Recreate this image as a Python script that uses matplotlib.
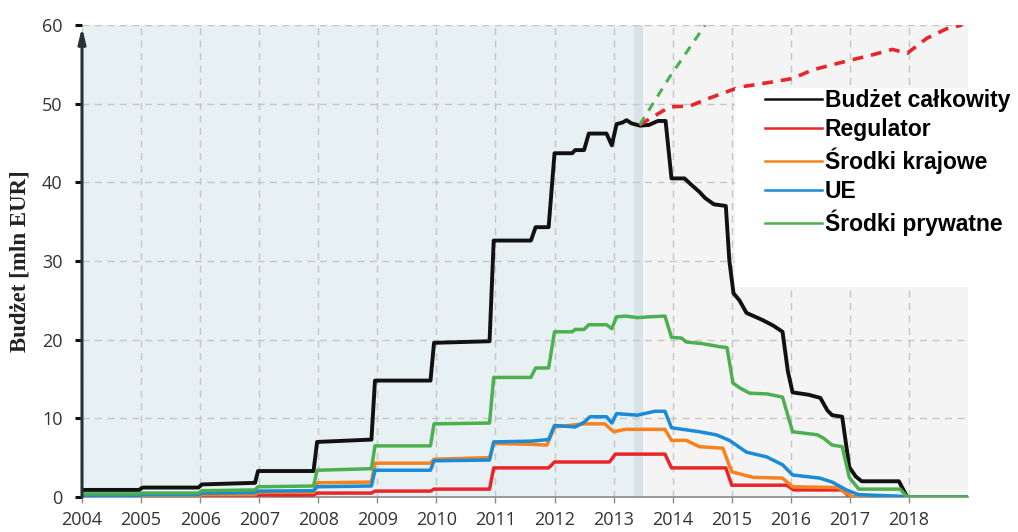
import matplotlib
matplotlib.use('Agg')
import matplotlib.pyplot as plt
from matplotlib.lines import Line2D
from matplotlib.patches import Rectangle

# --- dane ---
years = list(range(2004, 2019))

t_total = [2004.0, 2004.97, 2005.02, 2005.97, 2006.03, 2006.93, 2006.98, 2007.92, 2007.98, 2008.9,
           2008.96, 2009.9, 2009.96, 2010.9, 2010.97, 2011.6, 2011.68, 2011.9, 2012.0, 2012.3,
           2012.35, 2012.5, 2012.58, 2012.88, 2012.97, 2013.05, 2013.15, 2013.22, 2013.3, 2013.45,
           2013.6, 2013.75, 2013.88, 2013.98, 2014.2, 2014.3, 2014.45, 2014.55, 2014.7, 2014.9,
           2014.96, 2015.03, 2015.13, 2015.25, 2015.52, 2015.7, 2015.86, 2015.95, 2016.03, 2016.3,
           2016.5, 2016.62, 2016.7, 2016.87, 2016.93, 2016.99, 2017.1, 2017.2, 2017.83, 2017.97, 2019.0]
v_total = [0.9, 0.9, 1.2, 1.2, 1.6, 1.8, 3.3, 3.3, 7.0, 7.3,
           14.8, 14.8, 19.6, 19.8, 32.6, 32.6, 34.3, 34.3, 43.7, 43.7,
           44.1, 44.1, 46.2, 46.2, 44.7, 47.4, 47.6, 47.9, 47.5, 47.2,
           47.3, 47.8, 47.8, 40.5, 40.5, 39.8, 38.8, 38.0, 37.2, 37.0,
           30.0, 25.9, 25.0, 23.4, 22.5, 21.8, 21.0, 16.0, 13.3, 13.0,
           12.6, 11.0, 10.4, 10.2, 7.0, 3.8, 2.6, 2.0, 2.0, 0.0, 0.0]

t_reg = [2004.0, 2006.93, 2006.98, 2007.92, 2007.98, 2008.9, 2008.96, 2009.9, 2009.96, 2010.9,
         2010.97, 2011.9, 2012.0, 2012.93, 2013.03, 2013.87, 2013.98, 2014.9, 2015.0, 2015.93,
         2016.05, 2016.87, 2017.0, 2019.0]
v_reg = [0.05, 0.1, 0.25, 0.25, 0.5, 0.5, 0.75, 0.75, 1.0, 1.0,
         3.7, 3.7, 4.45, 4.45, 5.45, 5.45, 3.7, 3.7, 1.5, 1.5,
         0.9, 0.9, 0.0, 0.0]

t_nat = [2004.0, 2004.97, 2005.02, 2005.97, 2006.03, 2006.93, 2006.98, 2007.92, 2007.98, 2008.9,
         2008.96, 2009.9, 2009.96, 2010.9, 2010.97, 2011.6, 2011.87, 2012.0, 2012.5, 2012.85,
         2013.0, 2013.2, 2013.87, 2013.98, 2014.23, 2014.45, 2014.85, 2015.0, 2015.36, 2015.86,
         2016.03, 2016.8, 2017.05, 2019.0]
v_nat = [0.05, 0.05, 0.15, 0.15, 0.3, 0.3, 0.6, 0.6, 1.8, 1.9,
         4.3, 4.3, 4.8, 5.0, 6.8, 6.7, 6.6, 8.9, 9.3, 9.3,
         8.3, 8.6, 8.6, 7.2, 7.2, 6.4, 6.2, 3.2, 2.5, 2.4,
         1.3, 1.2, 0.0, 0.0]

t_eu = [2004.0, 2004.97, 2005.02, 2005.97, 2006.03, 2006.93, 2006.98, 2007.92, 2007.98, 2008.9,
        2008.96, 2009.9, 2009.96, 2010.9, 2010.97, 2011.6, 2011.9, 2012.0, 2012.35, 2012.5,
        2012.6, 2012.88, 2012.97, 2013.05, 2013.4, 2013.7, 2013.87, 2013.98, 2014.45, 2014.74,
        2014.96, 2015.25, 2015.59, 2015.86, 2016.03, 2016.49, 2016.7, 2016.94, 2017.15, 2017.85,
        2017.97, 2019.0]
v_eu = [0.2, 0.2, 0.3, 0.3, 0.5, 0.55, 0.75, 0.8, 1.3, 1.4,
        3.4, 3.4, 4.6, 4.7, 7.0, 7.1, 7.3, 9.1, 8.9, 9.5,
        10.2, 10.2, 9.4, 10.6, 10.4, 10.9, 10.9, 8.8, 8.3, 7.9,
        7.2, 5.7, 5.1, 4.1, 2.8, 2.4, 1.9, 0.9, 0.3, 0.1,
        0.0, 0.0]

t_priv = [2004.0, 2004.97, 2005.02, 2005.97, 2006.03, 2006.93, 2006.98, 2007.92, 2007.98, 2008.9,
          2008.96, 2009.9, 2009.96, 2010.9, 2010.97, 2011.6, 2011.68, 2011.9, 2012.0, 2012.3,
          2012.35, 2012.5, 2012.58, 2012.88, 2012.97, 2013.05, 2013.2, 2013.4, 2013.6, 2013.87,
          2013.98, 2014.15, 2014.23, 2014.5, 2014.8, 2014.92, 2015.02, 2015.13, 2015.3, 2015.6,
          2015.86, 2016.03, 2016.45, 2016.55, 2016.7, 2016.87, 2016.99, 2017.15, 2017.85, 2017.97,
          2019.0]
v_priv = [0.4, 0.4, 0.5, 0.5, 0.8, 0.9, 1.3, 1.4, 3.4, 3.6,
          6.5, 6.5, 9.3, 9.4, 15.2, 15.2, 16.4, 16.4, 21.0, 21.0,
          21.3, 21.3, 21.9, 21.9, 21.4, 22.9, 23.0, 22.8, 22.9, 23.0,
          20.3, 20.2, 19.7, 19.5, 19.1, 19.0, 14.5, 13.9, 13.2, 13.1,
          12.7, 8.3, 7.9, 7.5, 6.6, 6.4, 2.5, 1.0, 1.0, 0.0,
          0.0]

# prognozy (linie przerywane)
t_reg_fc = [2013.44, 2013.95, 2014.29, 2014.62, 2015.13, 2015.64, 2016.03, 2016.37, 2016.94,
            2017.38, 2017.72, 2017.97, 2018.3, 2018.63, 2018.9]
v_reg_fc = [47.3, 49.6, 49.7, 50.7, 52.1, 52.7, 53.2, 54.3, 55.4,
            56.2, 56.9, 56.4, 58.3, 59.5, 60.0]
t_priv_fc = [2013.44, 2013.95, 2014.55]
v_priv_fc = [47.3, 53.4, 60.0]

labels = ['Budżet całkowity', 'Regulator', 'Środki krajowe', 'UE', 'Środki prywatne']
colors = ['#111111', '#e8262a', '#f5821f', '#1a8bd6', '#4cb050']

# okresy tła
past_end = 2013.35
band_end = 2013.5

fig = plt.figure(figsize=(10.18, 5.32), dpi=100)
ax = fig.add_axes([82 / 1018, 1 - 497 / 532, 886 / 1018, 472 / 532])

ax.axvspan(2004, past_end, color='#e7f0f2', lw=0, zorder=0)
ax.axvspan(past_end, band_end, color='#d6e4e8', lw=0, zorder=0)
ax.axvspan(band_end, 2019, color='#f4f4f4', lw=0, zorder=0)

ax.grid(True, ls=(0, (5, 4)), color='#c6c6c6', lw=1)
ax.set_axisbelow(True)

series = [(t_total, v_total), (t_reg, v_reg), (t_nat, v_nat), (t_eu, v_eu), (t_priv, v_priv)]
widths = [2.8, 2.5, 2.5, 2.5, 2.5]
for (t, v), c, w in zip(series, colors, widths):
    ax.plot(t, v, color=c, lw=w, solid_joinstyle='round', solid_capstyle='round', zorder=3)

ax.plot(t_reg_fc, v_reg_fc, color='#e8262a', lw=2.6, ls=(0, (3, 2.2)), zorder=3)
ax.plot(t_priv_fc, v_priv_fc, color='#4cb050', lw=2.2, ls=(0, (3, 2.5)), zorder=3)

ax.set_xlim(2004, 2019)
ax.set_ylim(0, 60)
ax.set_xticks(years)
ax.set_yticks(range(0, 61, 10))

for s in ['top', 'right', 'left']:
    ax.spines[s].set_visible(False)
ax.spines['bottom'].set_color('#8a8a8a')
ax.spines['bottom'].set_linewidth(1.2)

ax.annotate('', xy=(0, 0.995), xytext=(0, 0), xycoords='axes fraction',
            arrowprops=dict(arrowstyle='-|>,head_width=0.22,head_length=0.9',
                            color='#243434', lw=2.2, shrinkA=0, shrinkB=0), zorder=4)

ax.tick_params(axis='y', length=5, width=2.2, color='#111111', pad=9,
               labelsize=13, labelcolor='#333333')
ax.tick_params(axis='x', length=4, width=1, color='#8a8a8a', pad=6,
               labelsize=13, labelcolor='#333333')
for lab in ax.get_xticklabels() + ax.get_yticklabels():
    lab.set_family(['Open Sans', 'DejaVu Sans'])

ax.set_ylabel('Budżet [mln EUR]', family='Liberation Serif', fontweight='bold',
              fontsize=16.5, color='#222222')
ax.yaxis.set_label_coords(-0.058, 0.5)

# biale tlo legendy
fig.add_artist(Rectangle((735 / 1018, 1 - 287 / 532), 283 / 1018, 199 / 532,
                         transform=fig.transFigure, facecolor='white', edgecolor='none', zorder=3))

handles = [Line2D([0], [0], color=c, lw=1.8) for c in colors]
fig.legend(handles, labels, loc='upper left', bbox_to_anchor=(765 / 1018, 1 - 89 / 532),
           frameon=False, borderpad=0, borderaxespad=0, handlelength=2.5, handletextpad=0.1,
           labelspacing=0.27, prop=dict(family='Liberation Sans', weight='bold', size=16.5))

fig.savefig('out.png', dpi=100)
